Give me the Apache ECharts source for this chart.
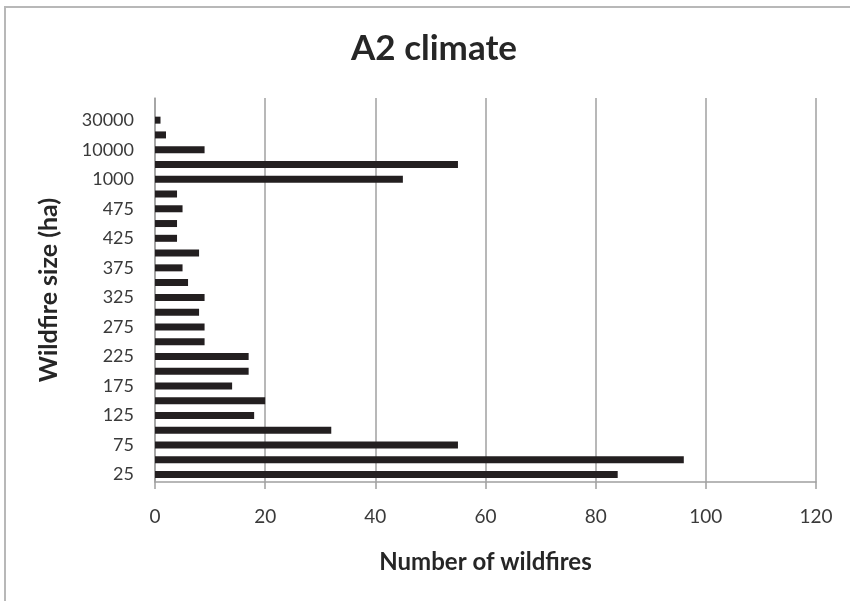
<!DOCTYPE html>
<html>
<head>
<meta charset="utf-8">
<script src="https://cdn.jsdelivr.net/npm/echarts@6/dist/echarts.min.js"></script>
<style>
  html, body { margin: 0; padding: 0; background: #fff; }
  #chart { width: 850px; height: 601px; }
</style>
</head>
<body>
<div id="chart"></div>
<script>
// wildfire size classes (ha), bottom to top
const sizeClasses = ['25', '50', '75', '100', '125', '150', '175', '200', '225', '250',
    '275', '300', '325', '350', '375', '400', '425', '450', '475', '500',
    '1000', '5000', '10000', '20000', '30000'];
const fireCounts = [84, 96, 55, 32, 18, 20, 14, 17, 17, 9,
    9, 8, 9, 6, 5, 8, 4, 4, 5, 4,
    45, 55, 9, 2, 1];
const xTicks = [0, 20, 40, 60, 80, 100, 120];

const chart = echarts.init(document.getElementById('chart'));
const font = 'Lato, "Open Sans", sans-serif';

const option = {
    animation: false,
    backgroundColor: '#fff',
    title: {
        text: 'A2 climate',
        left: 429,
        textAlign: 'center',
        top: 26,
        textStyle: { fontFamily: font, fontSize: 35, fontWeight: 'bold', color: '#262626' }
    },
    graphic: [{
        type: 'rect',
        shape: { x: 5, y: 7, width: 900, height: 700 },
        style: { fill: 'none', stroke: '#b8b8b8', lineWidth: 2 }
    }],
    grid: { left: 155, right: 34, top: 98, bottom: 119 },
    xAxis: {
        type: 'value',
        min: xTicks[0],
        max: xTicks[xTicks.length - 1],
        interval: 20,
        name: 'Number of wildfires',
        nameLocation: 'middle',
        nameGap: 68,
        nameTextStyle: { fontFamily: font, fontSize: 24, fontWeight: 'bold', color: '#262626' },
        axisLine: { show: true, lineStyle: { color: '#a0a0a0', width: 1.5 } },
        axisTick: { show: true, length: 7, lineStyle: { color: '#a0a0a0', width: 1.5 } },
        axisLabel: { fontFamily: font, fontSize: 19, color: '#3a3a3a', margin: 25 },
        splitLine: { show: true, lineStyle: { color: '#a0a0a0', width: 1.5 } }
    },
    yAxis: {
        type: 'category',
        // extra empty slot at the top, as in the original plot area
        data: sizeClasses.concat(['']),
        name: 'Wildfire size (ha)',
        nameLocation: 'middle',
        nameRotate: 90,
        nameGap: 94,
        nameTextStyle: { fontFamily: font, fontSize: 25, fontWeight: 'bold', color: '#262626' },
        axisLine: { show: true, lineStyle: { color: '#a0a0a0', width: 1.5 } },
        axisTick: { show: false },
        axisLabel: { interval: 1, fontFamily: font, fontSize: 18, color: '#3a3a3a', margin: 21 }
    },
    series: [{
        type: 'bar',
        data: fireCounts,
        barWidth: 7,
        itemStyle: { color: '#231f20' }
    }]
};

chart.setOption(option);
</script>
</body>
</html>
